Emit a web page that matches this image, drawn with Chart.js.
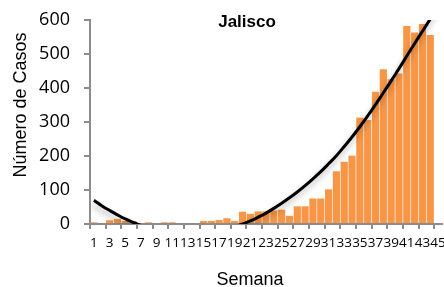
<!DOCTYPE html>
<html>
<head>
<meta charset="utf-8">
<script src="https://cdn.jsdelivr.net/npm/chart.js@4/dist/chart.umd.min.js"></script>
<style>
  html, body { margin: 0; padding: 0; background: #fff; }
  canvas { display: block; }
</style>
</head>
<body>
<canvas id="jaliscochart" width="444" height="287"></canvas>
<script>
const canvasId = 'jaliscochart';

// semanas 1..45
const weeks = [1, 2, 3, 4, 5, 6, 7, 8, 9, 10, 11, 12, 13, 14, 15, 16, 17, 18, 19, 20,
    21, 22, 23, 24, 25, 26, 27, 28, 29, 30, 31, 32, 33, 34, 35, 36, 37, 38, 39, 40,
    41, 42, 43, 44, 45];

// casos por semana (semana 45 sin dato)
const cases = [5, 0, 11, 15, 9, 9, 0, 5, 0, 5, 5, 0, 0, 0, 9, 9, 12, 17, 9, 36,
    30, 37, 37, 40, 42, 24, 52, 52, 75, 75, 102, 155, 183, 201, 313, 306, 389, 455, 426, 443,
    582, 563, 588, 556, null];

// linea de tendencia
const trend = [70, 54, 40, 27, 15, 5, -4, -12, -18, -23, -27, -29, -30, -30, -28, -25, -21, -15, -8, 0,
    9, 20, 32, 46, 61, 77, 94, 113, 133, 154, 177, 201, 228, 256, 286, 318, 351, 386, 421, 457,
    494, 531, 567, 603, 640];

const yTicks = [0, 100, 200, 300, 400, 500, 600];

const axisGray = '#8c8c8c';

// sombra de la linea de tendencia
const shadowPlugin = {
    id: 'trendShadow',
    beforeDatasetDraw(chart, args) {
        if (args.index !== 1) return;
        const ctx = chart.ctx;
        ctx.save();
        ctx.shadowColor = 'rgba(0, 0, 0, 0.3)';
        ctx.shadowBlur = 6;
        ctx.shadowOffsetX = -1;
        ctx.shadowOffsetY = 4;
    },
    afterDatasetDraw(chart, args) {
        if (args.index !== 1) return;
        chart.ctx.restore();
    }
};

// titulos como en la hoja de Excel
const textPlugin = {
    id: 'chartTexts',
    afterDraw(chart) {
        const ctx = chart.ctx;
        const area = chart.chartArea;
        ctx.save();
        ctx.fillStyle = '#000';
        ctx.textAlign = 'center';
        ctx.textBaseline = 'middle';

        ctx.font = 'bold 17px "Liberation Sans", Arial, sans-serif';
        ctx.fillText('Jalisco', area.left + 157, area.top + 2);

        ctx.font = '18px "Liberation Sans", Arial, sans-serif';
        ctx.fillText('Semana', area.left + 160, area.bottom + 56);

        ctx.translate(21, area.top + 85);
        ctx.rotate(-Math.PI / 2);
        ctx.fillText('Número de Casos', 0, 0);
        ctx.restore();
    }
};

function drawChart(canvasId) {
    const ctx = document.getElementById(canvasId).getContext('2d');

    window[canvasId] = new Chart(ctx, {
        type: 'bar',
        data: {
            labels: weeks,
            datasets: [{
                label: 'Casos',
                data: cases,
                backgroundColor: '#F79646',
                borderWidth: 0,
                barPercentage: 0.92,
                categoryPercentage: 1.0,
                order: 1
            }, {
                type: 'line',
                label: 'Tendencia',
                data: trend,
                borderColor: '#000',
                borderWidth: 3,
                pointRadius: 0,
                tension: 0.4,
                fill: false,
                clip: 0,
                order: 0
            }]
        },
        options: {
            responsive: false,
            animation: false,
            layout: {
                padding: { top: 20, right: 2, left: 0, bottom: 0 }
            },
            plugins: {
                legend: { display: false },
                tooltip: { enabled: false }
            },
            scales: {
                x: {
                    grid: {
                        drawOnChartArea: false,
                        drawTicks: true,
                        tickLength: 5,
                        lineWidth: 2,
                        color: (c) => (c.index % 2 === 0 ? axisGray : 'rgba(0,0,0,0)')
                    },
                    border: { color: axisGray, width: 2 },
                    ticks: {
                        autoSkip: false,
                        maxRotation: 0,
                        minRotation: 0,
                        padding: 6,
                        color: '#000',
                        font: { family: '"Open Sans", sans-serif', size: 13.5 },
                        callback: (value, index) => (index % 2 === 0 ? String(weeks[index]) : '')
                    },
                    afterFit: (scale) => {
                        scale.height = 63;
                        scale.paddingLeft = 0;
                        scale.paddingRight = 0;
                    }
                },
                y: {
                    min: yTicks[0],
                    max: yTicks[yTicks.length - 1],
                    grid: {
                        drawOnChartArea: false,
                        drawTicks: true,
                        tickLength: 6,
                        lineWidth: 2,
                        color: axisGray
                    },
                    border: { color: axisGray, width: 2 },
                    ticks: {
                        stepSize: 100,
                        padding: 14,
                        color: '#000',
                        font: { family: '"Open Sans", sans-serif', size: 18 }
                    },
                    afterFit: (scale) => {
                        scale.width = 90;
                        scale.paddingTop = 0;
                        scale.paddingBottom = 0;
                    }
                }
            }
        },
        plugins: [shadowPlugin, textPlugin]
    });
}

drawChart(canvasId);
</script>
</body>
</html>
